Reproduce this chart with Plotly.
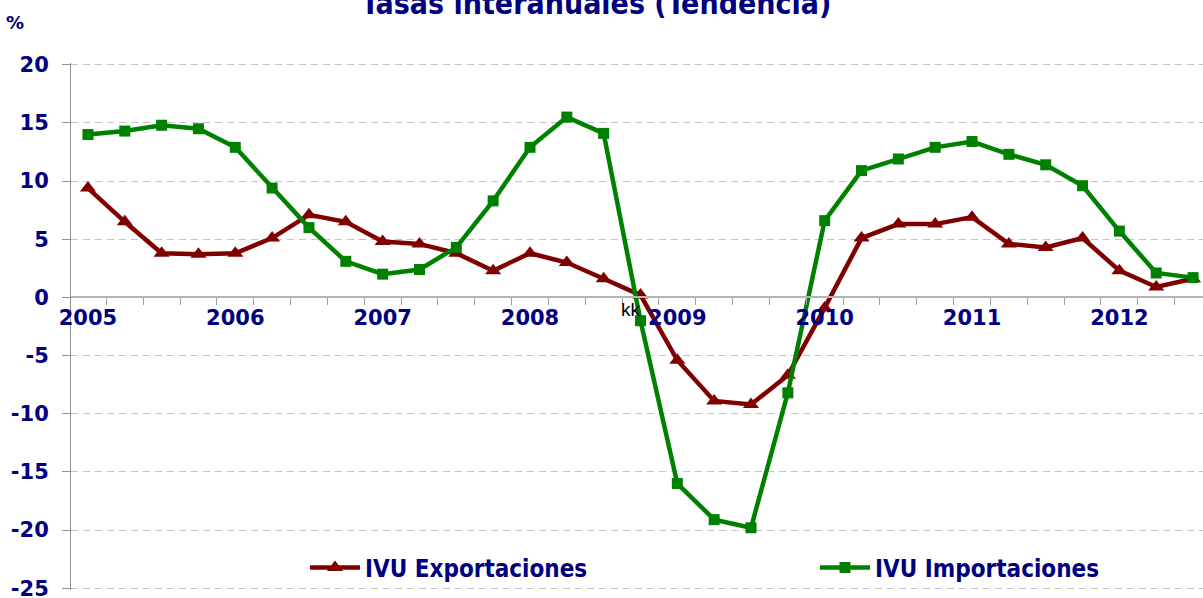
import plotly.graph_objects as go

years = ["2005", "2006", "2007", "2008", "2009", "2010", "2011", "2012"]
quarters_per_year = 4

exportaciones = [9.4, 6.5, 3.8, 3.7, 3.8, 5.1, 7.1, 6.5, 4.8, 4.6, 3.8, 2.3, 3.8, 3.0, 1.6, 0.2,
                 -5.4, -8.9, -9.2, -6.7, -0.9, 5.1, 6.3, 6.3, 6.9, 4.6, 4.3, 5.1, 2.3, 0.9, 1.6]
importaciones = [14.0, 14.3, 14.8, 14.5, 12.9, 9.4, 6.0, 3.1, 2.0, 2.4, 4.3, 8.3, 12.9, 15.5, 14.1, -2.0,
                 -16.0, -19.1, -19.8, -8.2, 6.6, 10.9, 11.9, 12.9, 13.4, 12.3, 11.4, 9.6, 5.7, 2.1, 1.7]

n = len(exportaciones)
xs = list(range(n))
year_pos = [i * quarters_per_year for i in range(len(years))]
between = [i + 0.5 for i in range(n - 1)]
yticks = [20, 15, 10, 5, 0, -5, -10, -15, -20, -25]
yticktext = [str(v) for v in yticks]

NAVY = "#000080"
RED = "#800000"
GREEN = "#008000"
NARROW = "Liberation Sans Narrow, DejaVu Sans Condensed, Arial Narrow, sans-serif"
WIDE = "DejaVu Sans, Verdana, sans-serif"

FW, FH = 1203, 598
L, T, W, H = 71, 63, 1132, 527
YLO, YHI = -25.15, 20.15

fig = go.Figure()
fig.add_trace(go.Scatter(
    x=xs, y=exportaciones, name="IVU Exportaciones", mode="lines+markers", legend="legend",
    line=dict(color=RED, width=4.5), marker=dict(symbol="triangle-up", size=14, color=RED),
    cliponaxis=False))
fig.add_trace(go.Scatter(
    x=xs, y=importaciones, name="IVU Importaciones", mode="lines+markers", legend="legend2",
    line=dict(color=GREEN, width=4.5), marker=dict(symbol="square", size=11, color=GREEN),
    cliponaxis=False))

bottom_px = T + H
legend_font = dict(family=NARROW, size=24, color=NAVY, weight="bold")
fig.update_layout(
    width=FW, height=FH,
    margin=dict(l=L, r=FW - L - W, t=T, b=FH - T - H, autoexpand=False),
    paper_bgcolor="white", plot_bgcolor="white",
    showlegend=True,
    legend=dict(x=(305 - L) / W, xanchor="left", y=(bottom_px - 568) / H, yanchor="middle",
                itemwidth=50, font=legend_font, bgcolor="rgba(0,0,0,0)"),
    legend2=dict(x=(815 - L) / W, xanchor="left", y=(bottom_px - 568) / H, yanchor="middle",
                 itemwidth=50, font=legend_font, bgcolor="rgba(0,0,0,0)"),
    xaxis=dict(range=[-0.46, 30.27], tickmode="array", tickvals=year_pos, ticktext=years,
               ticks="", showgrid=False, zeroline=False, anchor="free",
               position=(0 - YLO) / (YHI - YLO),
               showline=True, linecolor="#b4b4b4", linewidth=2, automargin=False,
               ticklabelstandoff=1,
               tickfont=dict(family=WIDE, size=21, color=NAVY, weight="bold"),
               minor=dict(tickmode="array", tickvals=between, ticks="outside", ticklen=7,
                          tickcolor="#a0a0a0", tickwidth=1, showgrid=False)),
    yaxis=dict(range=[YLO, YHI], tickmode="array", tickvals=yticks, ticktext=yticktext,
               ticks="outside", ticklen=8, automargin=False, ticklabelstandoff=9,
               ticklabeloverflow="allow",
               tickcolor="#909090", showline=True, linecolor="#909090", linewidth=1,
               showgrid=True, gridcolor="#c4c4c4", griddash="7px,5px", gridwidth=1,
               zeroline=False,
               tickfont=dict(family=WIDE, size=21, color=NAVY, weight="bold")),
)

fig.add_shape(type="rect", xref="paper", yref="y", x0=(190 - L) / W, x1=1.0,
              y0=-20.15, y1=-26, fillcolor="white", line=dict(width=0), layer="between")

# title (top clipped as in the reference)
fig.add_annotation(text="Tasas interanuales (Tendencia)", xref="paper", yref="paper",
                   x=(596 - L) / W, y=1 + (T - 23) / H, xanchor="center", yanchor="bottom",
                   showarrow=False,
                   font=dict(family=NARROW, size=30, color=NAVY, weight="bold"))
fig.add_annotation(text="%", xref="paper", yref="paper", x=(4 - L) / W, y=1 + (T - 35) / H,
                   xanchor="left", yanchor="bottom", showarrow=False,
                   font=dict(family=WIDE, size=18, color=NAVY, weight="bold"))
fig.add_annotation(text="kk", x=15, y=0, xref="x", yref="y", xanchor="right", yanchor="top",
                   xshift=2, yshift=0, showarrow=False,
                   font=dict(family="Liberation Sans, Arial, sans-serif", size=19, color="black"))

fig.write_html("out.html", config={"displayModeBar": False},
               post_script="document.body.style.margin='0px';")
